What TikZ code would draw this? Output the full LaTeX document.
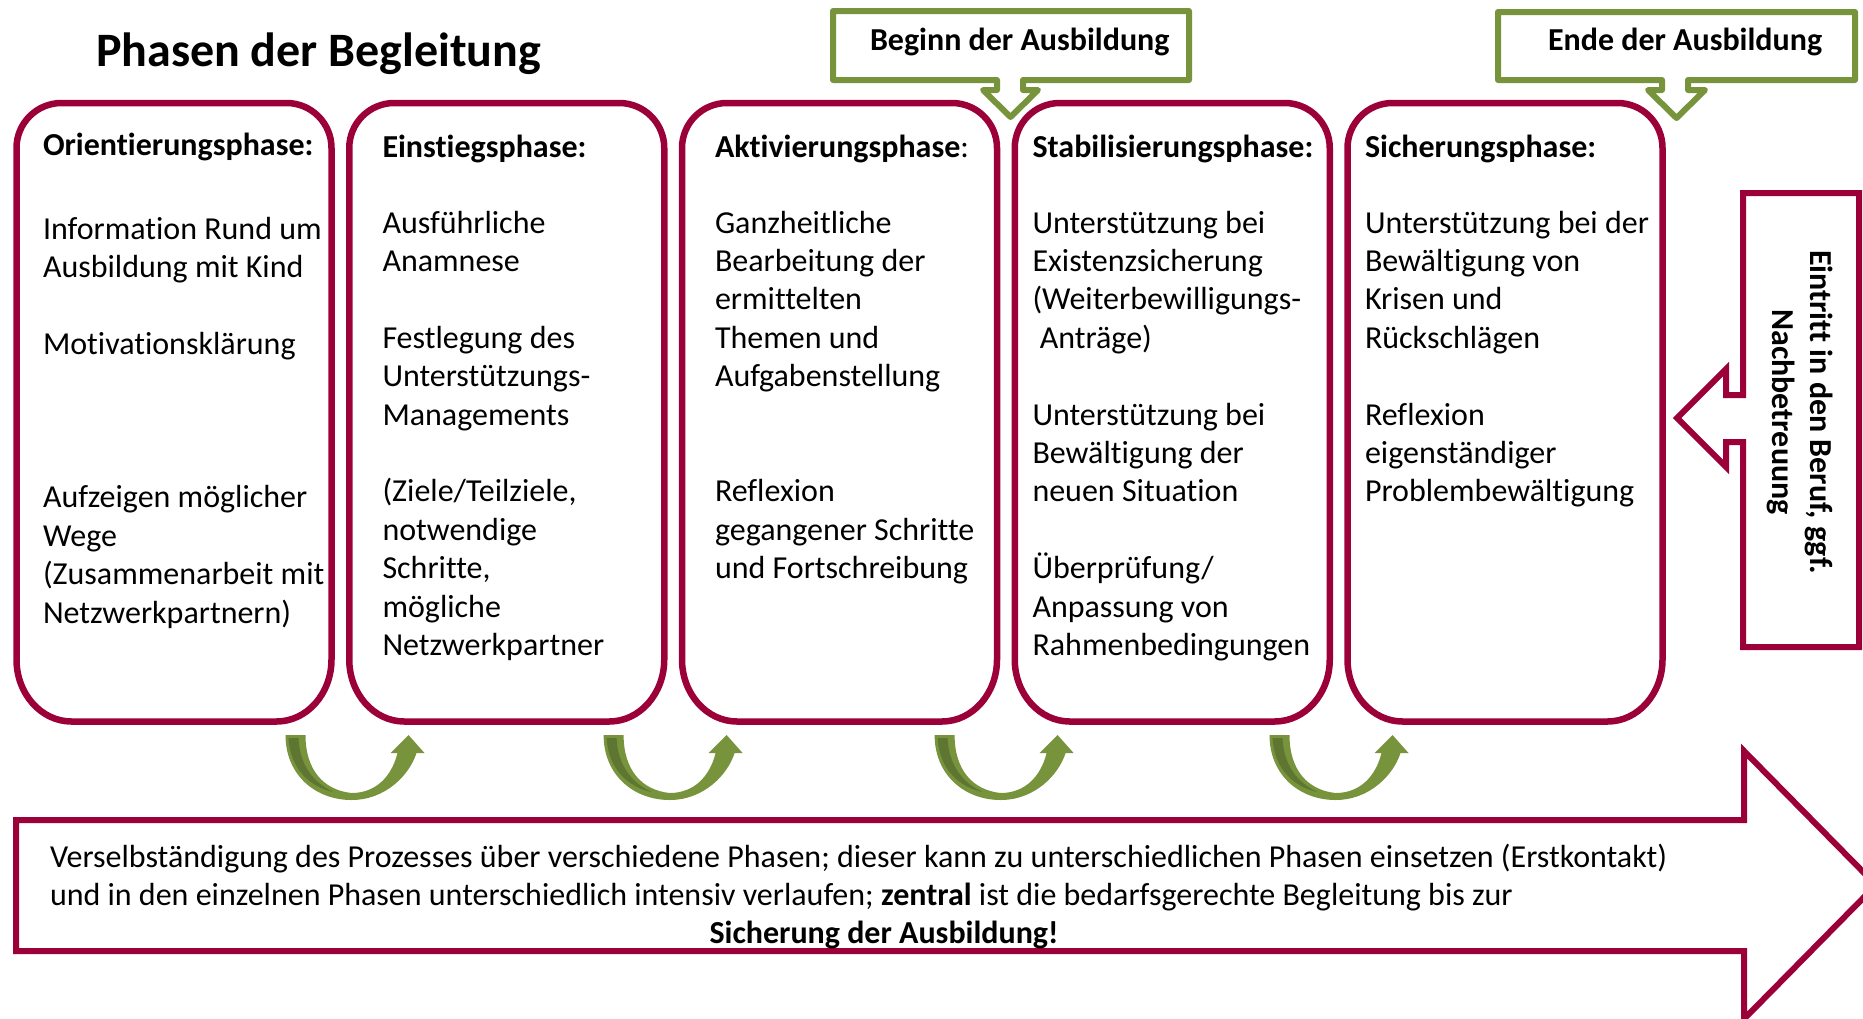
\documentclass[tikz,border=0pt]{standalone}
\usepackage{fontspec}
\setmainfont{Carlito}[Ligatures=NoCommon]
\usetikzlibrary{calc}
\definecolor{phred}{HTML}{9C0039}
\definecolor{phgreen}{HTML}{77933C}
\definecolor{phdark}{HTML}{5E7631}
\newcommand\phfont{\fontsize{32}{38.4}\selectfont}
\newcommand\phtitlefont{\fontsize{48}{56}\selectfont\bfseries}
\newcommand\phframe[1]{%
  \draw[frame] ($(#1.north west)+(0,45)$) .. controls +(0,-24.85) and +(-24.85,0) .. ($(#1.north west)+(45,0)$)
    -- ($(#1.north east)+(-45,0)$) .. controls +(24.85,0) and +(0,-24.85) .. ($(#1.north east)+(0,45)$)
    -- ($(#1.south east)+(0,-62)$) .. controls +(0,34.2) and +(30.4,0) .. ($(#1.south east)+(-55,0)$)
    -- ($(#1.south west)+(55,0)$) .. controls +(-30.4,0) and +(0,34.2) .. ($(#1.south west)+(0,-62)$)
    -- cycle;}
\begin{document}
\begin{tikzpicture}[x=1pt,y=-1pt,
  phasebox/.style={rectangle, draw=none, inner sep=0pt, outer sep=0pt, minimum width=315pt, minimum height=618.5pt},
  frame/.style={draw=phred, line width=6.5pt},
  callout/.style={draw=phgreen, fill=white, line width=6pt, line join=round},
  redshape/.style={draw=phred, fill=white, line width=6pt, line join=miter},
  txt/.style={inner sep=0pt, outer sep=0pt, font=\phfont, anchor=base west},
  hdr/.style={txt, font=\phfont\bfseries},
  uturn/.pic={
    \fill[phgreen] (0,0) .. controls (0,40) and (30,65) .. (66,65)
      .. controls (100,65) and (124,40) .. (131,18) -- (139,18) -- (123,0) -- (105,18) -- (112,18)
      .. controls (106,42) and (90,58) .. (66,58)
      .. controls (38,55) and (20,35) .. (20,0) -- cycle;
    \fill[phdark] (3,3) -- (13,3) .. controls (14,30) and (28,48) .. (48,57)
      .. controls (25,52) and (5,35) .. (3,3) -- cycle;
  }]
\useasboundingbox (0,0) rectangle (1863,1018);
\clip (0,0) rectangle (1863,1018);

% phase boxes
\node[phasebox] (p1) at (174,412.25) {};
\node[phasebox] (p2) at (506.75,412.25) {};
\node[phasebox] (p3) at (839.5,412.25) {};
\node[phasebox] (p4) at (1172.25,412.25) {};
\node[phasebox] (p5) at (1505,412.25) {};
\phframe{p1}\phframe{p2}\phframe{p3}\phframe{p4}\phframe{p5}

% bottom big arrow
\draw[redshape] (16,820) -- (1744,820) -- (1744,751) -- (1876,885) -- (1744,1019) -- (1744,951) -- (16,951) -- cycle;

% right callout with left arrow
\draw[redshape] (1743,193) -- (1859,193) -- (1859,647) -- (1743,647) -- (1743,442) -- (1726,442) -- (1726,467) -- (1677,418) -- (1726,369) -- (1726,395) -- (1743,395) -- cycle;

% green callouts
\draw[callout] (833,11) -- (1189,11) -- (1189,80) -- (1023,80) -- (1023,90) -- (1038,90) -- (1010.5,117) -- (983,90) -- (997,90) -- (997,80) -- (833,80) -- cycle;
\draw[callout] (1498,12) -- (1855,12) -- (1855,80) -- (1688,80) -- (1688,90) -- (1705,90) -- (1676.5,118) -- (1648,90) -- (1662,90) -- (1662,80) -- (1498,80) -- cycle;

% curved arrows
\pic (u1) at (285.5,735) {uturn};
\pic (u2) at (603.6,735) {uturn};
\pic (u3) at (934.6,735) {uturn};
\pic (u4) at (1269.5,735) {uturn};

% texts
\node[txt, font=\phtitlefont] (title) at (96,66) {Phasen der Begleitung};
\node[hdr] (beginn) at (870,50.5) {Beginn der Ausbildung};
\node[hdr] (ende) at (1548,50) {Ende der Ausbildung};

\node[hdr] (h1) at (43,155) {Orientierungsphase:};
\node[hdr] (h2) at (382.5,157) {Einstiegsphase:};
\node[txt] (h3) at (715,157) {\textbf{Aktivierungsphase}:};
\node[hdr] (h4) at (1032.5,157) {Stabilisierungsphase:};
\node[hdr] (h5) at (1365,157) {Sicherungsphase:};

\node[txt] (t1) at (43,239) {\begin{tabular}[t]{@{}l@{}}Information Rund um\\ Ausbildung mit Kind\\ \\ Motivationsklärung\\ \\ \\ \\ Aufzeigen möglicher\\ Wege\\ (Zusammenarbeit mit\\ Netzwerkpartnern)\end{tabular}};
\node[txt] (t2) at (382.5,233) {\begin{tabular}[t]{@{}l@{}}Ausführliche\\ Anamnese\\ \\ Festlegung des\\ Unterstützungs-\\ Managements\\ \\ (Ziele/Teilziele,\\ notwendige\\ Schritte,\\ mögliche\\ Netzwerkpartner\end{tabular}};
\node[txt] (t3) at (715,233) {\begin{tabular}[t]{@{}l@{}}Ganzheitliche\\ Bearbeitung der\\ ermittelten\\ Themen und\\ Aufgabenstellung\\ \\ \\ Reflexion\\ gegangener Schritte\\ und Fortschreibung\end{tabular}};
\node[txt] (t4) at (1032.5,233) {\begin{tabular}[t]{@{}l@{}}Unterstützung bei\\ Existenzsicherung\\ (Weiterbewilligungs-\\ \hspace{.23em}Anträge)\\ \\ Unterstützung bei\\ Bewältigung der\\ neuen Situation\\ \\ Überprüfung/\\ Anpassung von\\ Rahmenbedingungen\end{tabular}};
\node[txt] (t5) at (1365,233) {\begin{tabular}[t]{@{}l@{}}Unterstützung bei der\\ Bewältigung von\\ Krisen und\\ Rückschlägen\\ \\ Reflexion\\ eigenständiger\\ Problembewältigung\end{tabular}};

\node[font=\phfont\bfseries, rotate=-90, align=center, inner sep=0pt] (eintritt) at (1800,412) {Eintritt in den Beruf, ggf.\\ Nachbetreuung};

\node[txt] (bottom) at (50,867) {\begin{tabular}[t]{@{}l@{}}Verselbständigung des Prozesses über verschiedene Phasen; dieser kann zu unterschiedlichen Phasen einsetzen (Erstkontakt)\\ und in den einzelnen Phasen unterschiedlich intensiv verlaufen; \textbf{zentral} ist die bedarfsgerechte Begleitung bis zur\end{tabular}};
\node[txt, font=\phfont\bfseries, anchor=base] (sicherung) at (884,943.5) {Sicherung der Ausbildung!};
\end{tikzpicture}
\end{document}
